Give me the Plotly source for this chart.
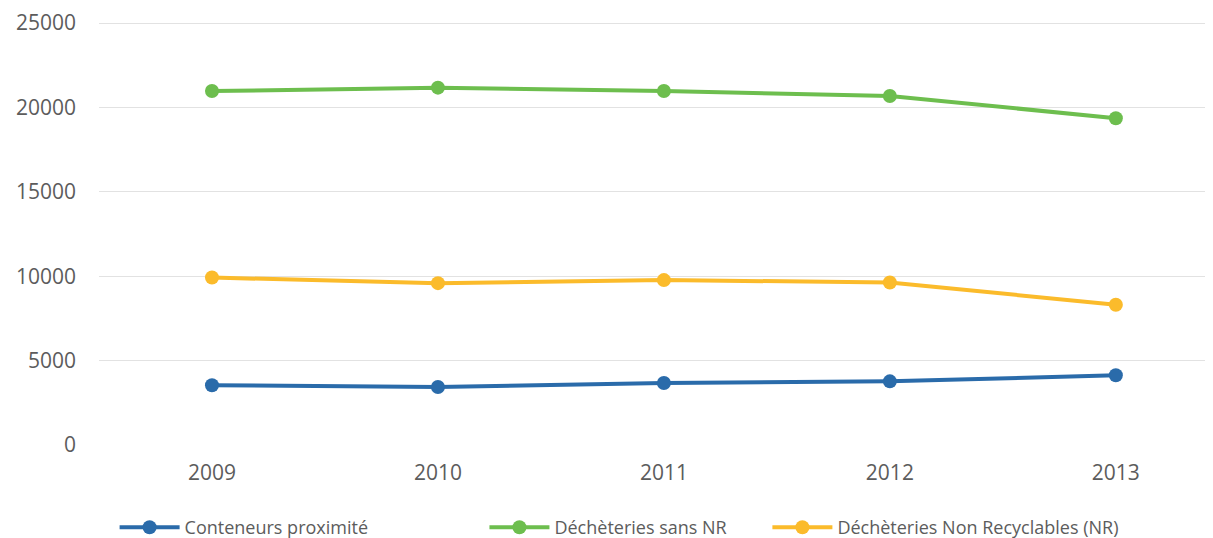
import plotly.graph_objects as go

# Tonnages per year
years = ["2009", "2010", "2011", "2012", "2013"]
conteneurs = [3540, 3440, 3670, 3770, 4130]
decheteries_sans_nr = [20970, 21170, 20970, 20680, 19360]
decheteries_nr = [9920, 9590, 9770, 9630, 8310]

series_names = ["Conteneurs proximité", "Déchèteries sans NR", "Déchèteries Non Recyclables (NR)"]
colors = ["#2A6BAA", "#6DBE4E", "#FBBB2B"]
# each legend entry sits in its own legend box so the gaps can follow the original
legend_ids = ["legend", "legend2", "legend3"]
legend_x = [0.014, 0.346, 0.6]

font_main = "Open Sans, Liberation Sans, sans-serif"
grey_text = "#5c5c5c"

fig = go.Figure()
for name, vals, col, lg in zip(series_names, [conteneurs, decheteries_sans_nr, decheteries_nr], colors, legend_ids):
    fig.add_trace(go.Scatter(
        x=years, y=vals, name=name, mode="lines+markers",
        line=dict(color=col, width=4),
        marker=dict(color=col, size=14),
        legend=lg,
    ))

legend_common = dict(
    orientation="h", xanchor="left", y=-0.195, yanchor="middle",
    font=dict(size=18, color=grey_text), bgcolor="rgba(0,0,0,0)",
    itemwidth=60,
)
# page body keeps its default 8px margin, so the figure is 8px smaller than the window
fig.update_layout(
    width=1205, height=530,
    paper_bgcolor="white", plot_bgcolor="white",
    margin=dict(l=91, r=0, t=14, b=93, autoexpand=False),
    font=dict(family=font_main, size=21, color=grey_text),
    showlegend=True,
    legend=dict(x=legend_x[0], **legend_common),
    legend2=dict(x=legend_x[1], **legend_common),
    legend3=dict(x=legend_x[2], **legend_common),
)
fig.update_xaxes(
    type="category",
    range=[-0.5, 4.43],
    showgrid=False, zeroline=False, showline=False,
    ticks="", ticklabelstandoff=13,
    tickfont=dict(size=21),
)
fig.update_yaxes(
    range=[0, 25060], dtick=5000, tickformat="d",
    showgrid=True, gridcolor="#e2e2e2", gridwidth=1,
    zeroline=False, showline=False,
    ticks="", ticklabelstandoff=22, ticklabeloverflow="allow",
    tickfont=dict(size=21),
)

fig.write_html("out.html")
